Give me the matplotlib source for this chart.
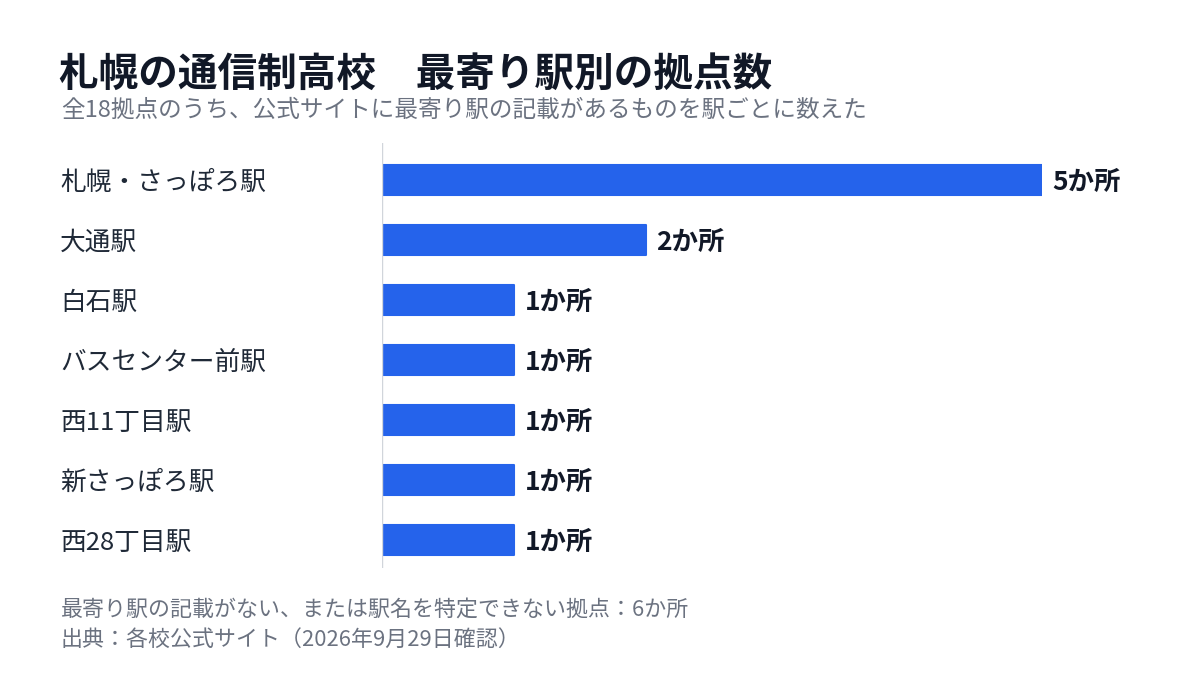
import matplotlib
matplotlib.use("Agg")
import matplotlib.pyplot as plt

plt.rcParams['font.family'] = ['Noto Sans CJK JP', 'DejaVu Sans']

stations = ["札幌・さっぽろ駅", "大通駅", "白石駅", "バスセンター前駅", "西11丁目駅", "新さっぽろ駅", "西28丁目駅"]
counts = [5, 2, 1, 1, 1, 1, 1]
value_labels = ["5か所", "2か所", "1か所", "1か所", "1か所", "1か所", "1か所"]

W, H = 1200, 688
fig = plt.figure(figsize=(12, 6.88), dpi=100)
ax = fig.add_axes([382/W, 1-568/H, 660/W, 425/H])
ys = list(range(len(stations)))
ax.barh(ys, counts, height=0.5, color="#2563EB", edgecolor="#2563EB", linewidth=1.5, joinstyle="round")
ax.set_xlim(0, 5)
ax.set_ylim(6.467, -0.617)
ax.axis("off")
ax.axvline(0, color="#d1d5db", lw=1)
for y, v, lab, st in zip(ys, counts, value_labels, stations):
    ax.text(v + 0.08, y + 0.04, lab, va="center", ha="left", fontsize=19, fontweight="bold", color="#111827")
    fig.text(60/W, 1-(183+60*y)/H, st, va="center", ha="left", fontsize=18.5, color="#1f2937")

fig.text(59/W, 1-74/H, "札幌の通信制高校　最寄り駅別の拠点数", fontsize=28.5, fontweight="bold", color="#111827", va="center")
fig.text(61/W, 1-110/H, "全18拠点のうち、公式サイトに最寄り駅の記載があるものを駅ごとに数えた", fontsize=17, color="#6b7280", va="center")
fig.text(61/W, 1-610/H, "最寄り駅の記載がない、または駅名を特定できない拠点：6か所", fontsize=15.8, color="#6b7280", va="center")
fig.text(61/W, 1-640/H, "出典：各校公式サイト（2026年9月29日確認）", fontsize=15.8, color="#6b7280", va="center")
fig.savefig("out.png", dpi=100)
